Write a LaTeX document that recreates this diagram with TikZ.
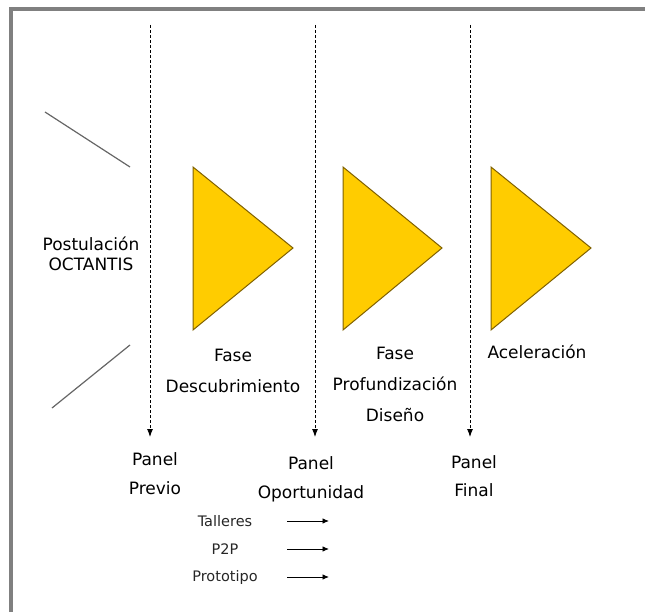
\documentclass[tikz,border=0pt]{standalone}
\usepackage{fontspec}
\setmainfont{DejaVu Sans}
\usetikzlibrary{arrows.meta}
\definecolor{frameg}{HTML}{808080}
\definecolor{tri}{HTML}{FFCC00}
\definecolor{triline}{HTML}{7F6000}
\definecolor{diag}{HTML}{666666}
\tikzset{
  lbl/.style={inner sep=0pt, anchor=base, align=center, font=\fontsize{17}{31}\selectfont},
  small/.style={inner sep=0pt, anchor=center, font=\fontsize{14.5}{17}\selectfont, text=black!85},
  phase/.style={fill=tri, draw=triline, line width=1pt, line join=miter},
  divider/.style={dash pattern=on 3pt off 2pt, line width=0.9pt, -{Latex[length=8pt,width=6pt]}},
  substep/.style={line width=0.9pt, -{Latex[length=6.5pt,width=5.5pt]}},
  diagline/.style={draw=diag, line width=1.2pt}
}
\begin{document}
\begin{tikzpicture}[x=1pt,y=-1pt]
\useasboundingbox (0,0) rectangle (645,612);
% frame
\fill[frameg] (9,7) rectangle (645,11);
\fill[frameg] (9,7) rectangle (13,612);
% diagonal lines
\coordinate (a1) at (45,112); \coordinate (a2) at (130,167);
\coordinate (b1) at (52,408); \coordinate (b2) at (130,345);
\draw[diagline] (a1) -- (a2);
\draw[diagline] (b1) -- (b2);
% triangles
\draw[phase] (193,167) -- (293,248) -- (193,330) -- cycle;
\draw[phase] (343,167) -- (442,248) -- (343,330) -- cycle;
\draw[phase] (491,167) -- (591,248) -- (491,330) -- cycle;
% dashed dividers
\coordinate (d1) at (150,25); \coordinate (e1) at (150,437);
\coordinate (d2) at (315,25); \coordinate (e2) at (315,437);
\coordinate (d3) at (470,25); \coordinate (e3) at (470,437);
\draw[divider] (d1) -- (e1);
\draw[divider] (d2) -- (e2);
\draw[divider] (d3) -- (e3);
% labels (anchor base = baseline of last line)
\node[lbl, font=\fontsize{17}{20.5}\selectfont] (post) at (91,271) {Postulación\\OCTANTIS};
\node[lbl] (fase1) at (233,392) {Fase\\Descubrimiento};
\node[lbl] (fase2) at (395,421) {Fase\\Profundización\\Diseño};
\node[lbl] (acel) at (537,358) {Aceleración};
\node[lbl, font=\fontsize{17}{29}\selectfont] (panel1) at (155,494) {Panel\\Previo};
\node[lbl, font=\fontsize{17}{29}\selectfont] (panel2) at (311,498) {Panel\\Oportunidad};
\node[lbl, font=\fontsize{17}{28}\selectfont] (panel3) at (474,496) {Panel\\Final};
% sub steps
\node[small] (tall) at (225,521) {Talleres};
\node[small] (p2p) at (225,549) {P2P};
\node[small] (proto) at (225,577) {Prototipo};
\coordinate (t1) at (287,521); \coordinate (t2) at (329,521);
\coordinate (q1) at (287,549); \coordinate (q2) at (329,549);
\coordinate (r1) at (287,577); \coordinate (r2) at (329,577);
\draw[substep] (t1) -- (t2);
\draw[substep] (q1) -- (q2);
\draw[substep] (r1) -- (r2);
\end{tikzpicture}
\end{document}
